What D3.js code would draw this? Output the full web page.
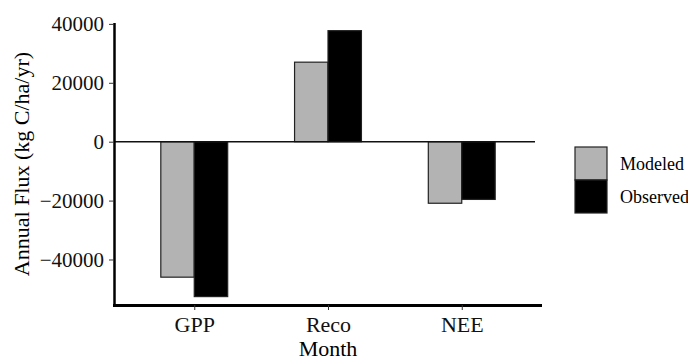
<!DOCTYPE html>
<html>
<head>
<meta charset="utf-8">
<script src="https://cdn.jsdelivr.net/npm/d3@7"></script>
<style>
  body { margin: 0; background: #fff; }
</style>
</head>
<body>
<div id="chart"></div>
<script>
const WIDTH = 688;
const HEIGHT = 360;
const FONT = 'Liberation Serif';

const categories = ['GPP', 'Reco', 'NEE'];
const series = ['Modeled', 'Observed'];
const modeled = [-46000, 27000, -20900];
const observed = [-52600, 37700, -19600];
const yTicks = [-40000, -20000, 0, 20000, 40000];
const colors = ['#b3b3b3', '#000000'];

const data = categories.map((c, i) => ({ cat: c, values: [modeled[i], observed[i]] }));

const margin = { left: 114, right: 146, top: 23, bottom: 55 };

var svg = d3.select('#chart')
    .append('svg')
    .attr('width', WIDTH)
    .attr('height', HEIGHT)
    .style('font-family', FONT)

var x = d3.scalePoint()
    .domain(categories)
    .range([margin.left, WIDTH - margin.right])
    .padding(0.6)

var step = x.step();

// dodge within each category
var xSub = d3.scaleBand()
    .domain(series)
    .range([-step / 4, step / 4])

var y = d3.scaleLinear()
    .domain([-55450, 40300])
    .range([HEIGHT - margin.bottom, margin.top])

var color = d3.scaleOrdinal().domain(series).range(colors);

// bars
var groups = svg.selectAll('g.cat')
    .data(data)
    .enter()
    .append('g')
    .attr('class', 'cat')
    .attr('transform', d => `translate(${x(d.cat)},0)`)

groups.selectAll('rect')
    .data(d => d.values.map((v, i) => ({ key: series[i], value: v })))
    .enter()
    .append('rect')
    .attr('x', d => xSub(d.key))
    .attr('y', d => Math.min(y(d.value), y(0)))
    .attr('width', xSub.bandwidth())
    .attr('height', d => Math.abs(y(d.value) - y(0)))
    .attr('fill', d => color(d.key))
    .attr('stroke', '#222')
    .attr('stroke-width', 1.2)

// zero line
svg.append('line')
    .attr('x1', x.range()[0])
    .attr('x2', x.range()[1] - 7)
    .attr('y1', y(0))
    .attr('y2', y(0))
    .attr('stroke', '#111')
    .attr('stroke-width', 1.6)

// y axis
var yAxis = svg.append('g')
    .attr('transform', `translate(${margin.left},0)`)
    .call(d3.axisLeft(y).tickValues(yTicks).tickFormat(d3.format('d')).tickSize(5).tickPadding(5))

yAxis.select('.domain').attr('stroke', '#000').attr('stroke-width', 2.5)
    .attr('d', `M0.5,${y.range()[1]}V${y.range()[0] + 1}`)
yAxis.selectAll('.tick line').attr('stroke', '#333').attr('stroke-width', 1)
yAxis.selectAll('.tick text')
    .style('font-family', FONT)
    .style('font-size', '21px')
    .attr('fill', '#111')

// x axis
var xAxis = svg.append('g')
    .attr('transform', `translate(0,${HEIGHT - margin.bottom})`)
    .call(d3.axisBottom(x).tickSize(5).tickPadding(6))

xAxis.select('.domain').attr('stroke', '#000').attr('stroke-width', 2.8)
    .attr('d', `M${x.range()[0] - 1},0.5H${x.range()[1]}`)
xAxis.selectAll('.tick line').attr('stroke', '#333').attr('stroke-width', 1)
xAxis.selectAll('.tick text')
    .style('font-family', FONT)
    .style('font-size', '22px')
    .attr('fill', '#111')

// axis titles
svg.append('text')
    .attr('x', (x.range()[0] + x.range()[1]) / 2)
    .attr('y', 356)
    .attr('text-anchor', 'middle')
    .style('font-family', FONT)
    .style('font-size', '22px')
    .text('Month')

svg.append('text')
    .attr('transform', `translate(29,${(y.range()[0] + y.range()[1]) / 2}) rotate(-90)`)
    .attr('text-anchor', 'middle')
    .style('font-family', FONT)
    .style('font-size', '22px')
    .text('Annual Flux (kg C/ha/yr)')

// legend
var legend = svg.append('g').attr('transform', 'translate(575,147)')

legend.selectAll('rect')
    .data(series)
    .enter()
    .append('rect')
    .attr('x', 0)
    .attr('y', (d, i) => i * 33)
    .attr('width', 32)
    .attr('height', 33)
    .attr('fill', d => color(d))
    .attr('stroke', '#222')
    .attr('stroke-width', 1.2)

legend.selectAll('text')
    .data(series)
    .enter()
    .append('text')
    .attr('x', 45)
    .attr('y', (d, i) => i * 33 + 16.5)
    .attr('dy', '0.35em')
    .style('font-family', FONT)
    .style('font-size', '18px')
    .text(d => d)
</script>
</body>
</html>
